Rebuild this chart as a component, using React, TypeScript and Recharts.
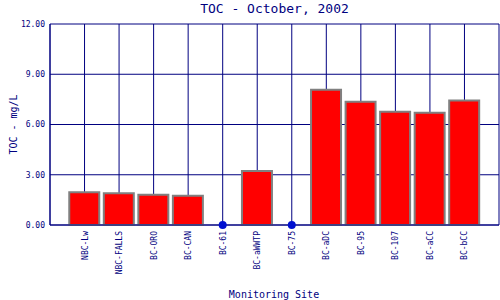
import React from 'react';
import { ComposedChart, Bar, Line, XAxis, YAxis, CartesianGrid } from 'recharts';

const sites = [
  'NBC-Lw', 'NBC-FALLS', 'BC-ORO', 'BC-CAN', 'BC-61', 'BC-aWWTP',
  'BC-75', 'BC-aDC', 'BC-95', 'BC-107', 'BC-aCC', 'BC-bCC',
];
// measured TOC (mg/L); null where the site shows only a marker at zero
const tocValues = [1.96, 1.9, 1.8, 1.74, null, 3.22, null, 8.08, 7.36, 6.76, 6.7, 7.44];
const markerValues = [null, null, null, null, 0, null, 0, null, null, null, null, null];
const yTicks = [0, 3, 6, 9, 12];

const NAVY = '#000080';
const FONT = '"DejaVu Sans Mono", monospace';

const chartData = sites.map((site, i) => ({
  pos: i + 1,
  site,
  toc: tocValues[i],
  nd: markerValues[i],
}));

const xTicks = [0, ...chartData.map(d => d.pos), sites.length + 1];

const SiteTick = (props: any) => {
  const { x, y, payload } = props;
  const name = sites[payload.value - 1];
  if (!name) return null;
  const ty = y - 2;
  return (
    <text
      x={x + 3}
      y={ty}
      transform={`rotate(-90, ${x + 3}, ${ty})`}
      textAnchor="end"
      fill={NAVY}
      fontSize={8}
      fontFamily={FONT}
    >
      {name}
    </text>
  );
};

const App: React.FC = () => {
  return (
    <div style={{ position: 'absolute', left: 0, top: 0, width: 500, height: 300, background: '#fff' }}>
      <div
        style={{
          position: 'absolute', left: 50, top: 1, width: 449, textAlign: 'center',
          fontFamily: FONT, fontSize: 13, lineHeight: '16px', color: NAVY,
        }}
      >
        TOC - October, 2002
      </div>
      <ComposedChart
        width={500}
        height={300}
        data={chartData}
        margin={{ top: 24, right: 1, bottom: 0, left: 0 }}
      >
        <CartesianGrid stroke={NAVY} strokeWidth={1} />
        <XAxis
          dataKey="pos"
          type="number"
          domain={[0, sites.length + 1]}
          ticks={xTicks}
          interval={0}
          height={75}
          axisLine={{ stroke: NAVY }}
          tickLine={false}
          tick={<SiteTick />}
          label={{
            content: () => (
              <text x={274} y={298} textAnchor="middle" fill={NAVY} fontSize={10} fontFamily={FONT}>
                Monitoring Site
              </text>
            ),
          }}
        />
        <YAxis
          width={50}
          domain={[0, 12]}
          ticks={yTicks}
          interval={0}
          axisLine={{ stroke: NAVY }}
          tickLine={false}
          tickSize={0}
          tickMargin={5}
          tickFormatter={(v: number) => v.toFixed(2)}
          tick={{ fill: NAVY, fontSize: 8, fontFamily: FONT }}
          label={{
            content: () => (
              <text
                x={17}
                y={124.5}
                transform="rotate(-90, 17, 124.5)"
                textAnchor="middle"
                fill={NAVY}
                fontSize={10}
                fontFamily={FONT}
              >
                TOC - mg/L
              </text>
            ),
          }}
        />
        <Bar dataKey="toc" barSize={30} fill="#ff0000" stroke="#808080" strokeWidth={2} isAnimationActive={false} />
        <Line
          dataKey="nd"
          stroke="none"
          dot={{ r: 4, fill: '#0010d0', stroke: 'none' }}
          activeDot={false}
          isAnimationActive={false}
        />
      </ComposedChart>
    </div>
  );
};

export default App;
